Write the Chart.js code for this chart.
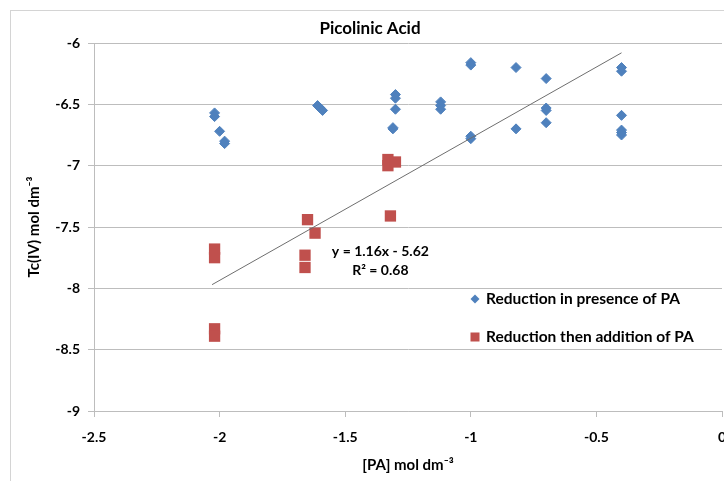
<!DOCTYPE html>
<html><head><meta charset="utf-8">
<script src="https://cdn.jsdelivr.net/npm/chart.js@4.4.1/dist/chart.umd.min.js"></script>
<style>html,body{margin:0;padding:0;background:#fff;overflow:hidden;}#wrap{width:724px;height:481px;overflow:hidden;}</style>
</head><body><div id="wrap"><canvas id="c" width="730" height="481"></canvas></div>
<script>
// ---- data ----
const seriesNames = ['Reduction in presence of PA', 'Reduction then addition of PA'];
const presenceX = [-2.02, -2.02, -2.00, -1.98, -1.98, -1.61, -1.60, -1.59, -1.30, -1.30, -1.30, -1.31, -1.31,
  -1.12, -1.12, -1.12, -1.00, -1.00, -1.00, -1.00, -0.82, -0.82, -0.70, -0.70, -0.70, -0.70,
  -0.40, -0.40, -0.40, -0.40, -0.40, -0.40];
const presenceY = [-6.57, -6.60, -6.72, -6.80, -6.82, -6.51, -6.53, -6.55, -6.42, -6.45, -6.54, -6.69, -6.70,
  -6.48, -6.51, -6.54, -6.16, -6.18, -6.76, -6.78, -6.20, -6.70, -6.29, -6.53, -6.55, -6.65,
  -6.20, -6.23, -6.59, -6.71, -6.73, -6.75];
const additionX = [-2.02, -2.02, -2.02, -2.02, -1.65, -1.62, -1.66, -1.66, -1.33, -1.33, -1.30, -1.32];
const additionY = [-7.68, -7.75, -8.33, -8.39, -7.44, -7.55, -7.73, -7.83, -6.95, -7.00, -6.97, -7.41];
const trendX = [-2.03, -0.40];
const trendY = [-7.97, -6.08];
const trendLabel = ['y = 1.16x - 5.62', 'R² = 0.68'];
const xTicks = [-2.5, -2, -1.5, -1, -0.5, 0];
const xTickLabels = ['-2.5', '-2', '-1.5', '-1', '-0.5', '0'];
const yTicks = [-9, -8.5, -8, -7.5, -7, -6.5, -6];
const yTickLabels = ['-9', '-8.5', '-8', '-7.5', '-7', '-6.5', '-6'];
const chartTitle = 'Picolinic Acid';
const xTitle = '[PA] mol dm⁻³';
const yTitle = 'Tc(IV) mol dm⁻³';

const FONT = 'Lato, "Open Sans", sans-serif';
const BLUE = '#4F81BD', RED = '#C0504D', GRID = '#BDBDBD';
const pts = (xs, ys) => xs.map((v, i) => ({x: v, y: ys[i]}));

const overlay = {
  id: 'overlay',
  beforeDraw(chart) {
    const ctx = chart.ctx;
    ctx.save();
    ctx.strokeStyle = '#D4D4D4';
    ctx.lineWidth = 1;
    ctx.strokeRect(10.5, 10.5, 900, 700);
    ctx.restore();
  },
  afterDraw(chart) {
    const ctx = chart.ctx;
    const xs = chart.scales.x, ys = chart.scales.y;
    ctx.save();
    // trendline label
    ctx.fillStyle = '#000';
    ctx.font = 'bold 14px ' + FONT;
    ctx.textAlign = 'center';
    ctx.textBaseline = 'middle';
    const lx = xs.getPixelForValue(-1.36);
    const ly = ys.getPixelForValue(-7.70);
    ctx.fillText(trendLabel[0], lx, ly);
    ctx.fillText(trendLabel[1], lx, ly + 19);
    // legend
    ctx.textAlign = 'left';
    ctx.font = 'bold 15.5px ' + FONT;
    const mx = 475, y1 = 299, y2 = 337;
    ctx.fillStyle = BLUE;
    ctx.beginPath();
    ctx.moveTo(mx, y1 - 4.5); ctx.lineTo(mx + 4.5, y1); ctx.lineTo(mx, y1 + 4.5); ctx.lineTo(mx - 4.5, y1);
    ctx.closePath(); ctx.fill();
    ctx.fillStyle = RED;
    ctx.fillRect(mx - 4.5, y2 - 4.5, 9, 9);
    ctx.fillStyle = '#000';
    ctx.fillText(chart.data.datasets[0].label, 486, y1);
    ctx.fillText(chart.data.datasets[1].label, 486, y2);
    ctx.restore();
  }
};

new Chart(document.getElementById('c'), {
  type: 'scatter',
  data: {
    datasets: [
      {label: seriesNames[0], data: pts(presenceX, presenceY), pointStyle: 'rectRot', pointRadius: 5,
       backgroundColor: BLUE, borderColor: BLUE, borderWidth: 1, order: 2},
      {label: seriesNames[1], data: pts(additionX, additionY), pointStyle: 'rect', pointRadius: 8,
       backgroundColor: RED, borderColor: RED, borderWidth: 0, order: 1},
      {label: 'trend', data: pts(trendX, trendY), showLine: true, pointRadius: 0, borderColor: '#6E6E6E',
       borderWidth: 1, fill: false, order: 0}
    ]
  },
  options: {
    responsive: false,
    animation: false,
    devicePixelRatio: 1,
    layout: {padding: {left: 10, top: 0, right: 0, bottom: 0}},
    plugins: {
      legend: {display: false},
      tooltip: {enabled: false},
      title: {display: true, text: chartTitle, color: '#000',
        font: {family: FONT, size: 17, weight: 'bold'}, padding: {top: 18.8, bottom: 3.8}}
    },
    scales: {
      x: {
        type: 'linear', min: -2.5, max: 0,
        afterBuildTicks: s => { s.ticks = xTicks.map(v => ({value: v})); },
        afterFit: s => { s.height = 70; s.paddingRight = 3; },
        grid: {drawOnChartArea: false, drawTicks: true, tickLength: 6, color: GRID},
        border: {color: GRID},
        ticks: {callback: (v, i) => xTickLabels[i], color: '#000', padding: 12, maxRotation: 0,
          font: {family: FONT, size: 14, weight: 'bold'}},
        title: {display: true, text: xTitle, color: '#000', padding: {top: 0, bottom: 7},
          font: {family: FONT, size: 15, weight: 'bold'}}
      },
      y: {
        type: 'linear', min: -9, max: -6,
        afterBuildTicks: s => { s.ticks = yTicks.map(v => ({value: v})); },
        afterFit: s => { s.width = 84; },
        grid: {color: GRID, tickLength: 6, drawTicks: true},
        border: {color: GRID},
        ticks: {callback: (v, i) => yTickLabels[i], color: '#000', padding: 8,
          font: {family: FONT, size: 14, weight: 'bold'}},
        title: {display: true, text: yTitle, color: '#000', padding: {top: 15, bottom: 0},
          font: {family: FONT, size: 15, weight: 'bold'}}
      }
    }
  },
  plugins: [overlay]
});
</script></body></html>
